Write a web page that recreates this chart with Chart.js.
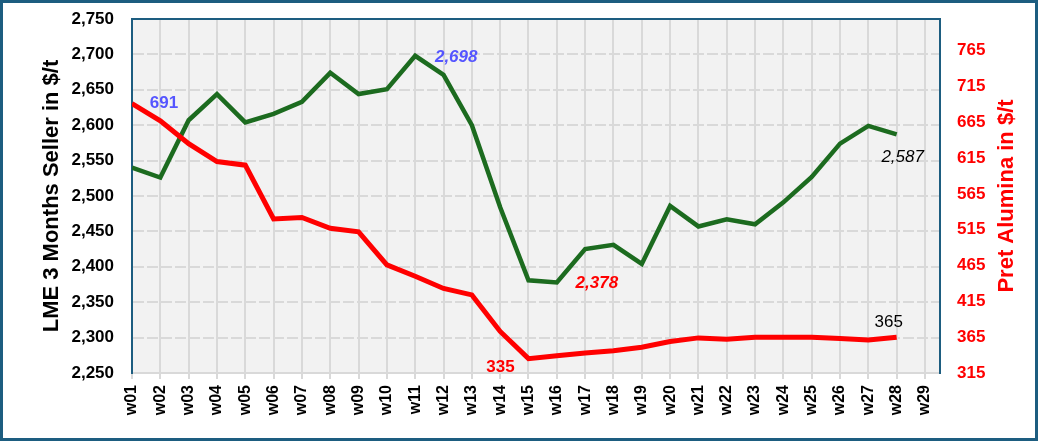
<!DOCTYPE html>
<html>
<head>
<meta charset="utf-8">
<script src="https://cdn.jsdelivr.net/npm/chart.js"></script>
<style>
  html, body { margin: 0; padding: 0; background: #fff; }
  #wrap { position: relative; width: 1038px; height: 441px; }
</style>
</head>
<body>
<div id="wrap"><canvas id="chart" width="1038" height="441"></canvas></div>
<script>
const weeks = ['w01','w02','w03','w04','w05','w06','w07','w08','w09','w10',
               'w11','w12','w13','w14','w15','w16','w17','w18','w19','w20',
               'w21','w22','w23','w24','w25','w26','w27','w28','w29'];

// LME 3 months seller, $/t (left axis)
const lme = [2540, 2526, 2607, 2644, 2604, 2616, 2633, 2674, 2644, 2651,
             2698, 2671, 2600, 2484, 2381, 2378, 2425, 2431, 2404, 2486,
             2457, 2467, 2460, 2491, 2527, 2574, 2599, 2587];

// Pret alumina, $/t (right axis)
const alumina = [691, 667, 635, 610, 605, 530, 532, 517, 512, 466,
                 450, 433, 424, 373, 335, 339, 343, 346, 351, 359,
                 364, 362, 365, 365, 365, 363, 361, 365];

const leftTicks  = [2250, 2300, 2350, 2400, 2450, 2500, 2550, 2600, 2650, 2700, 2750];
const rightTicks = [315, 365, 415, 465, 515, 565, 615, 665, 715, 765];

const FONT = '"Liberation Sans", Arial, sans-serif';
const frameColor = '#1d5d80';
const gridColor = '#d9d9d9';

// value labels: dataset index, point index, offset from the point
const callouts = [
  { ds: 1, i: 0,  text: '691',   dx: 32,  dy: 0,  color: '#5555ff', style: 'bold' },
  { ds: 0, i: 10, text: '2,698', dx: 41,  dy: 1,  color: '#5555ff', style: 'italic bold' },
  { ds: 0, i: 15, text: '2,378', dx: 40,  dy: 1,  color: '#ff0000', style: 'italic bold' },
  { ds: 1, i: 14, text: '335',   dx: -28, dy: 9,  color: '#ff0000', style: 'bold' },
  { ds: 0, i: 27, text: '2,587', dx: 6,   dy: 23, color: '#000000', style: 'italic' },
  { ds: 1, i: 27, text: '365',   dx: -8,  dy: -15, color: '#000000', style: '' }
];

// keep the plot box where the reference has it
function noPad(s) {
  s.paddingTop = 0; s.paddingBottom = 0;
  s.paddingLeft = 0; s.paddingRight = 0;
}

const decor = {
  id: 'decor',
  beforeDraw(chart) {
    const { ctx, chartArea: a } = chart;
    ctx.save();
    ctx.fillStyle = '#f2f2f2';
    ctx.fillRect(a.left, a.top, a.right - a.left, a.bottom - a.top);
    ctx.restore();
  },
  afterDatasetsDraw(chart) {
    const { ctx, chartArea: a } = chart;
    ctx.save();
    // top edge of the plot
    ctx.strokeStyle = frameColor;
    ctx.lineWidth = 2;
    ctx.beginPath();
    ctx.moveTo(a.left - 1, a.top);
    ctx.lineTo(a.right + 1, a.top);
    ctx.stroke();

    ctx.textAlign = 'center';
    ctx.textBaseline = 'middle';
    callouts.forEach(c => {
      const pt = chart.getDatasetMeta(c.ds).data[c.i];
      ctx.font = `${c.style} 17px ${FONT}`;
      ctx.fillStyle = c.color;
      ctx.fillText(c.text, pt.x + c.dx, pt.y + c.dy);
    });

    // right axis title, reading bottom to top
    ctx.translate(1007, (a.top + a.bottom) / 2);
    ctx.rotate(-Math.PI / 2);
    ctx.font = `bold 22px ${FONT}`;
    ctx.fillStyle = '#ff0000';
    ctx.fillText('Pret Alumina in $/t', 0, 0);
    ctx.restore();
  },
  afterDraw(chart) {
    const { ctx, width, height } = chart;
    ctx.save();
    ctx.strokeStyle = frameColor;
    ctx.lineWidth = 3;
    ctx.strokeRect(1.5, 1.5, width - 3, height - 3);
    ctx.restore();
  }
};

new Chart(document.getElementById('chart'), {
  type: 'line',
  data: {
    datasets: [
      {
        label: 'LME 3 Months Seller',
        data: lme.map((v, i) => ({ x: i + 1, y: v })),
        yAxisID: 'y',
        borderColor: '#1c6b1f',
        borderWidth: 4.5,
        pointRadius: 0,
        tension: 0,
        order: 2
      },
      {
        label: 'Pret Alumina',
        data: alumina.map((v, i) => ({ x: i + 1, y: v })),
        yAxisID: 'y1',
        borderColor: '#ff0000',
        borderWidth: 5,
        pointRadius: 0,
        tension: 0,
        order: 1
      }
    ]
  },
  options: {
    responsive: false,
    animation: false,
    layout: { padding: { top: 19, left: 0, right: 0, bottom: 0 } },
    plugins: { legend: { display: false }, tooltip: { enabled: false } },
    scales: {
      x: {
        type: 'linear',
        min: 1,
        max: 29.53,
        afterBuildTicks: s => { s.ticks = weeks.map((w, i) => ({ value: i + 1 })); },
        afterFit: s => { s.height = 68; noPad(s); },
        ticks: {
          autoSkip: false,
          minRotation: 90,
          maxRotation: 90,
          padding: 6,
          color: '#000',
          font: { family: FONT, size: 16, weight: 'bold' },
          callback: v => weeks[v - 1]
        },
        grid: { color: gridColor, lineWidth: 2, tickLength: 6, drawTicks: true },
        border: { color: gridColor, width: 2 }
      },
      y: {
        position: 'left',
        min: 2250,
        max: 2750,
        afterBuildTicks: s => { s.ticks = leftTicks.map(v => ({ value: v })); },
        afterFit: s => { s.width = 132; noPad(s); },
        ticks: {
          padding: 18,
          color: '#000',
          font: { family: FONT, size: 17, weight: 'bold' },
          callback: v => v.toLocaleString('en-US')
        },
        grid: { color: gridColor, lineWidth: 2, drawTicks: false },
        border: { color: frameColor, width: 2, dash: [11, 3] },
        title: {
          display: true,
          text: 'LME 3 Months Seller in $/t',
          color: '#000',
          font: { family: FONT, size: 22, weight: 'bold' },
          padding: { top: 39, bottom: 0 }
        }
      },
      y1: {
        position: 'right',
        min: 315,
        max: 809,
        afterBuildTicks: s => { s.ticks = rightTicks.map(v => ({ value: v })); },
        afterFit: s => { s.width = 98; noPad(s); },
        ticks: {
          padding: 17,
          color: '#ff0000',
          font: { family: FONT, size: 17, weight: 'bold' }
        },
        grid: { display: false, drawTicks: false },
        border: { color: frameColor, width: 2 }
      }
    }
  },
  plugins: [decor]
});
</script>
</body>
</html>
